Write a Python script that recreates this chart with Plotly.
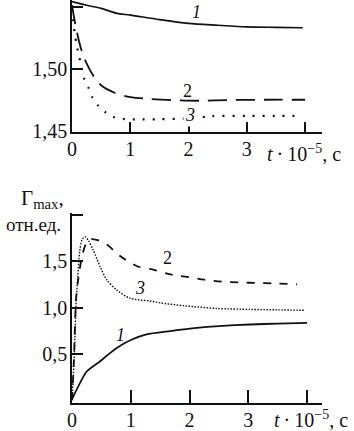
import plotly.graph_objects as go

# ---- top panel: refractive index vs time ----
t1_top = [0, 0.25, 0.5, 0.77, 1.0, 1.5, 2.0, 2.5, 3.0, 3.5, 3.96]
n1_top = [1.5539, 1.5510, 1.5485, 1.5445, 1.5431, 1.5395, 1.5365, 1.5350, 1.5337, 1.5333, 1.5330]

t2_top = [0, 0.06, 0.15, 0.25, 0.375, 0.5, 0.73, 1.0, 1.34, 1.73, 2.2, 2.7, 3.3, 4.0]
n2_top = [1.5510, 1.5350, 1.5170, 1.5045, 1.4940, 1.4870, 1.4810, 1.4775, 1.4760, 1.4750, 1.4746, 1.4752, 1.4754, 1.4754]

t3_top = [0, 0.02, 0.05, 0.08, 0.12, 0.16, 0.20, 0.28, 0.35, 0.45, 0.58, 0.74, 0.91, 1.11, 1.5, 2.0, 2.4, 3.0, 3.5, 3.86]
n3_top = [1.5480, 1.5380, 1.5280, 1.5190, 1.5110, 1.5015, 1.4934, 1.4853, 1.4773, 1.4706, 1.4652, 1.4611,
          1.4598, 1.4597, 1.4598, 1.4605, 1.4622, 1.4625, 1.4625, 1.4625]

# ---- bottom panel: Gamma_max vs time ----
t1_bot = [0, 0.25, 0.48, 0.63, 0.80, 1.02, 1.27, 1.67, 2.12, 2.5, 3.03, 3.5, 4.0]
g1_bot = [0.01, 0.31, 0.42, 0.50, 0.58, 0.655, 0.71, 0.745, 0.78, 0.80, 0.817, 0.827, 0.835]

t2_bot = [0, 0.03, 0.07, 0.11, 0.17, 0.24, 0.31, 0.42, 0.59, 0.83, 1.13, 1.38, 1.65, 1.96, 2.25, 2.55, 2.85, 3.15, 3.44, 3.83]
g2_bot = [0.0, 0.40, 1.10, 1.32, 1.55, 1.69, 1.735, 1.73, 1.68, 1.55, 1.44, 1.41, 1.36, 1.33, 1.30, 1.28, 1.27, 1.265, 1.26, 1.25]

t3_bot = [0, 0.04, 0.07, 0.10, 0.13, 0.17, 0.22, 0.28, 0.36, 0.48, 0.59, 0.76, 0.99, 1.33, 1.5, 1.9, 2.46, 3.03, 3.5, 3.97]
g3_bot = [0.0, 0.50, 1.05, 1.35, 1.60, 1.73, 1.765, 1.72, 1.62, 1.44, 1.30, 1.19, 1.10, 1.07, 1.05, 1.02, 0.99, 0.98, 0.975, 0.97]

top_yticks = [1.45, 1.50, 1.55]
top_yticktext = ["1,45", "1,50", "1,55"]
bot_yticks = [0.5, 1.0, 1.5, 2.0]
bot_yticktext = ["0,5", "1,0", "1,5", ""]
xticks = [0, 1, 2, 3, 4]
xticktext = ["0", "1", "2", "3", ""]

FONT = "Liberation Serif"
BLACK = "#111111"

fig = go.Figure()
fig.add_trace(go.Scatter(x=t1_top, y=n1_top, mode="lines", line=dict(color=BLACK, width=1.6, shape="spline", smoothing=0.8),
                         xaxis="x", yaxis="y"))
fig.add_trace(go.Scatter(x=t2_top, y=n2_top, mode="lines", line=dict(color=BLACK, width=1.8, dash="19px,9px", shape="spline", smoothing=0.8),
                         xaxis="x", yaxis="y"))
fig.add_trace(go.Scatter(x=t3_top, y=n3_top, mode="lines", line=dict(color=BLACK, width=2.2, dash="2px,8px", shape="spline", smoothing=0.8),
                         xaxis="x", yaxis="y"))

fig.add_trace(go.Scatter(x=t1_bot, y=g1_bot, mode="lines", line=dict(color=BLACK, width=1.8, shape="spline", smoothing=0.6),
                         xaxis="x2", yaxis="y2"))
fig.add_trace(go.Scatter(x=t2_bot, y=g2_bot, mode="lines", line=dict(color=BLACK, width=1.8, dash="8px,8.5px", shape="spline", smoothing=0.8),
                         xaxis="x2", yaxis="y2"))
fig.add_trace(go.Scatter(x=t3_bot, y=g3_bot, mode="lines", line=dict(color=BLACK, width=1.4, dash="1.5px,1.5px", shape="spline", smoothing=0.8),
                         xaxis="x2", yaxis="y2"))

axis_common = dict(showgrid=False, zeroline=False, showline=True, linecolor=BLACK, linewidth=1.5,
                   ticks="inside", tickcolor=BLACK, tickwidth=1.5, automargin=False,
                   tickfont=dict(family=FONT, size=20, color=BLACK))

fig.update_layout(
    width=354, height=431,
    margin=dict(l=72, r=32, t=0, b=28),
    paper_bgcolor="white", plot_bgcolor="white",
    showlegend=False,
    xaxis=dict(**axis_common, domain=[0, 1], range=[0, 4.29], tickvals=xticks, ticktext=xticktext,
               ticklen=10, anchor="y", ticklabelstandoff=-2),
    yaxis=dict(**axis_common, domain=[0.6725, 1.0], range=[1.4496, 1.5552], tickvals=top_yticks,
               ticktext=top_yticktext, ticklen=11, anchor="x", ticklabelstandoff=-1),
    xaxis2=dict(**axis_common, domain=[0, 1], range=[0, 4.255], tickvals=xticks, ticktext=xticktext,
                ticklen=13, anchor="y2", ticklabelstandoff=-2),
    yaxis2=dict(**axis_common, domain=[0, 0.4715], range=[-0.03, 2.02], tickvals=bot_yticks,
                ticktext=bot_yticktext, ticklen=11, anchor="x2", ticklabelstandoff=-1),
)

ann = []
lab_font = dict(family=FONT, size=18, color=BLACK)
# curve labels (top)
ann.append(dict(x=2.14, y=1.5455, xref="x", yref="y", text="<i>1</i>", showarrow=False, font=lab_font))
ann.append(dict(x=1.99, y=1.4824, xref="x", yref="y", text="2", showarrow=False, font=lab_font))
ann.append(dict(x=2.02, y=1.4630, xref="x", yref="y", text="<i>3</i>", showarrow=False, font=lab_font,
                bgcolor="white"))
# curve labels (bottom)
ann.append(dict(x=1.63, y=1.536, xref="x2", yref="y2", text="2", showarrow=False, font=lab_font))
ann.append(dict(x=1.16, y=1.214, xref="x2", yref="y2", text="<i>3</i>", showarrow=False, font=lab_font))
ann.append(dict(x=0.82, y=0.709, xref="x2", yref="y2", text="<i>1</i>", showarrow=False, font=lab_font))

# axis titles
ax_font = dict(family=FONT, size=20, color=BLACK)
xtitle = "<i>t</i>\u2009·\u200910<sup>−5</sup>, с"
ann.append(dict(x=0.772, y=0.620, xref="paper", yref="paper", xanchor="left", yanchor="middle",
                text=xtitle, showarrow=False, font=ax_font))
ann.append(dict(x=0.800, y=-0.040, xref="paper", yref="paper", xanchor="left", yanchor="middle",
                text=xtitle, showarrow=False, font=ax_font))
ann.append(dict(x=-0.024, y=0.507, xref="paper", yref="paper", xanchor="right", yanchor="middle",
                text="Γ<sub>max</sub>,", showarrow=False, font=dict(family=FONT, size=21, color=BLACK)))
ann.append(dict(x=-0.036, y=0.444, xref="paper", yref="paper", xanchor="right", yanchor="middle",
                text="отн.ед.", showarrow=False, font=dict(family=FONT, size=19, color=BLACK)))

fig.update_layout(annotations=ann)
fig.write_html("out.html", config={"displayModeBar": False},
               post_script="document.body.style.margin='0';document.body.style.padding='0';")
